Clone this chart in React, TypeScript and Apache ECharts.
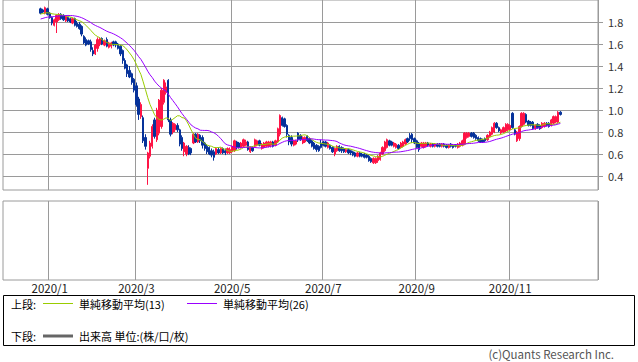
import React, { useEffect, useRef } from "react";
import * as echarts from "echarts";

// ---- calendar (trading days per month) ----
const months = ["2019/12", "2020/1", "2020/2", "2020/3", "2020/4", "2020/5", "2020/6", "2020/7", "2020/8", "2020/9", "2020/10", "2020/11", "2020/12"];
const tradingDays = [4, 19, 19, 21, 21, 18, 22, 21, 20, 20, 21, 19, 4];
const labeledMonths = ["2020/1", "2020/3", "2020/5", "2020/7", "2020/9", "2020/11"];

// ---- candles: [open, close, low, high] ----
const dec2019 = [[1.92, 1.88, 1.87, 1.93], [1.91, 1.89, 1.88, 1.92], [1.88, 1.93, 1.87, 1.94], [1.92, 1.87, 1.86, 1.93]];
const jan2020 = [
  [1.88, 1.84, 1.83, 1.89], [1.84, 1.79, 1.77, 1.85], [1.77, 1.82, 1.76, 1.83], [1.80, 1.86, 1.70, 1.87], [1.82, 1.87, 1.81, 1.88],
  [1.87, 1.83, 1.82, 1.88], [1.86, 1.82, 1.81, 1.87], [1.81, 1.85, 1.80, 1.86], [1.84, 1.81, 1.80, 1.85], [1.83, 1.80, 1.79, 1.84],
  [1.79, 1.83, 1.78, 1.84], [1.83, 1.77, 1.76, 1.84], [1.79, 1.76, 1.75, 1.81], [1.78, 1.74, 1.73, 1.80], [1.76, 1.69, 1.67, 1.77],
  [1.67, 1.61, 1.60, 1.68], [1.64, 1.59, 1.58, 1.66], [1.63, 1.60, 1.59, 1.64], [1.62, 1.55, 1.53, 1.64],
];
const feb2020 = [
  [1.54, 1.51, 1.49, 1.57], [1.51, 1.59, 1.50, 1.60], [1.56, 1.64, 1.53, 1.66], [1.60, 1.65, 1.58, 1.66], [1.65, 1.60, 1.59, 1.66],
  [1.59, 1.63, 1.58, 1.64], [1.64, 1.58, 1.57, 1.66], [1.57, 1.61, 1.56, 1.62], [1.58, 1.61, 1.56, 1.62], [1.62, 1.59, 1.58, 1.63],
  [1.62, 1.59, 1.57, 1.63], [1.60, 1.56, 1.55, 1.61], [1.58, 1.51, 1.49, 1.59], [1.54, 1.45, 1.42, 1.55], [1.45, 1.38, 1.37, 1.47],
  [1.41, 1.33, 1.30, 1.42], [1.36, 1.30, 1.29, 1.40], [1.33, 1.25, 1.23, 1.34], [1.28, 1.18, 1.16, 1.29],
];
const mar2020 = [
  [1.22, 1.05, 1.03, 1.25], [1.10, 0.96, 0.91, 1.12], [0.94, 1.05, 0.92, 1.07], [0.93, 0.72, 0.70, 0.95],
  [0.75, 0.67, 0.64, 0.78], [0.47, 0.61, 0.32, 0.62], [0.58, 0.70, 0.56, 0.72], [0.67, 0.85, 0.65, 0.87], [0.91, 0.76, 0.74, 0.93],
  [0.73, 1.00, 0.71, 1.02], [0.79, 1.09, 0.77, 1.10], [0.85, 1.18, 0.83, 1.20], [1.07, 1.27, 1.05, 1.28], [1.16, 1.21, 1.14, 1.25],
  [1.27, 0.91, 0.89, 1.28], [0.91, 0.78, 0.76, 0.93], [0.80, 0.88, 0.78, 0.89], [0.82, 0.87, 0.80, 0.88], [0.86, 0.82, 0.80, 0.88],
  [0.82, 0.69, 0.67, 0.83], [0.75, 0.65, 0.63, 0.77],
];
const apr2020 = [
  [0.62, 0.70, 0.58, 0.71], [0.60, 0.67, 0.58, 0.68], [0.66, 0.60, 0.59, 0.68], [0.65, 0.61, 0.59, 0.66],
  [0.70, 0.78, 0.69, 0.79], [0.78, 0.71, 0.70, 0.79], [0.71, 0.78, 0.70, 0.79], [0.77, 0.72, 0.70, 0.78], [0.75, 0.68, 0.65, 0.77],
  [0.70, 0.65, 0.63, 0.71], [0.67, 0.62, 0.60, 0.69], [0.66, 0.60, 0.59, 0.67], [0.63, 0.59, 0.57, 0.65], [0.62, 0.57, 0.54, 0.64],
  [0.60, 0.65, 0.59, 0.66], [0.64, 0.61, 0.60, 0.66], [0.61, 0.65, 0.60, 0.66], [0.65, 0.61, 0.60, 0.66], [0.63, 0.61, 0.59, 0.65],
  [0.61, 0.65, 0.60, 0.66], [0.61, 0.64, 0.60, 0.66],
];
const may2020 = [
  [0.62, 0.67, 0.61, 0.68], [0.63, 0.72, 0.62, 0.73], [0.71, 0.66, 0.64, 0.72], [0.70, 0.66, 0.65, 0.71],
  [0.66, 0.70, 0.65, 0.71], [0.67, 0.73, 0.66, 0.74], [0.68, 0.71, 0.67, 0.73], [0.71, 0.64, 0.63, 0.72], [0.62, 0.66, 0.61, 0.67],
  [0.66, 0.63, 0.62, 0.67], [0.67, 0.73, 0.66, 0.74], [0.68, 0.72, 0.67, 0.73], [0.72, 0.68, 0.67, 0.73], [0.65, 0.69, 0.64, 0.70],
  [0.66, 0.70, 0.65, 0.71], [0.67, 0.71, 0.66, 0.72], [0.67, 0.71, 0.66, 0.72], [0.68, 0.71, 0.66, 0.72],
];
const jun2020 = [
  [0.71, 0.67, 0.66, 0.72], [0.68, 0.72, 0.67, 0.73], [0.71, 0.83, 0.70, 0.84], [0.78, 0.95, 0.76, 0.96],
  [0.93, 0.86, 0.85, 0.94], [0.92, 0.85, 0.84, 0.93], [0.86, 0.78, 0.75, 0.87], [0.77, 0.71, 0.68, 0.78], [0.75, 0.69, 0.67, 0.77],
  [0.68, 0.72, 0.67, 0.73], [0.69, 0.72, 0.68, 0.73], [0.79, 0.73, 0.71, 0.80], [0.77, 0.73, 0.72, 0.78], [0.70, 0.75, 0.69, 0.76],
  [0.71, 0.75, 0.70, 0.76], [0.76, 0.72, 0.71, 0.77], [0.74, 0.70, 0.69, 0.75], [0.72, 0.67, 0.66, 0.73], [0.70, 0.65, 0.64, 0.71],
  [0.68, 0.64, 0.62, 0.69], [0.67, 0.63, 0.62, 0.68], [0.70, 0.66, 0.65, 0.73],
];
const jul2020 = [
  [0.71, 0.68, 0.67, 0.72], [0.71, 0.67, 0.66, 0.72], [0.66, 0.70, 0.65, 0.71], [0.68, 0.65, 0.64, 0.69],
  [0.66, 0.62, 0.61, 0.67], [0.60, 0.65, 0.58, 0.66], [0.63, 0.67, 0.62, 0.68], [0.67, 0.63, 0.62, 0.68], [0.66, 0.63, 0.61, 0.67],
  [0.65, 0.62, 0.61, 0.66], [0.62, 0.64, 0.61, 0.65], [0.64, 0.61, 0.60, 0.65], [0.63, 0.61, 0.59, 0.64], [0.62, 0.59, 0.58, 0.63],
  [0.61, 0.58, 0.57, 0.62], [0.58, 0.61, 0.57, 0.62], [0.61, 0.58, 0.57, 0.62], [0.60, 0.58, 0.57, 0.61], [0.60, 0.57, 0.56, 0.61],
  [0.59, 0.57, 0.56, 0.60], [0.58, 0.54, 0.53, 0.59],
];
const aug2020 = [
  [0.56, 0.53, 0.52, 0.57], [0.52, 0.56, 0.51, 0.57], [0.52, 0.56, 0.51, 0.57], [0.54, 0.58, 0.52, 0.59],
  [0.55, 0.61, 0.54, 0.62], [0.60, 0.66, 0.59, 0.67], [0.63, 0.71, 0.62, 0.72], [0.66, 0.73, 0.65, 0.74], [0.72, 0.68, 0.67, 0.73],
  [0.71, 0.68, 0.67, 0.72], [0.67, 0.70, 0.66, 0.71], [0.66, 0.69, 0.65, 0.70], [0.68, 0.65, 0.64, 0.69], [0.66, 0.70, 0.65, 0.71],
  [0.67, 0.71, 0.66, 0.72], [0.69, 0.73, 0.68, 0.74], [0.74, 0.71, 0.70, 0.75], [0.77, 0.74, 0.72, 0.79], [0.78, 0.73, 0.70, 0.79],
  [0.74, 0.70, 0.69, 0.75],
];
const sep2020 = [
  [0.72, 0.66, 0.65, 0.73], [0.70, 0.64, 0.62, 0.71], [0.67, 0.70, 0.66, 0.71], [0.66, 0.70, 0.65, 0.71],
  [0.67, 0.70, 0.66, 0.71], [0.70, 0.68, 0.67, 0.71], [0.67, 0.69, 0.66, 0.70], [0.69, 0.67, 0.66, 0.70], [0.67, 0.69, 0.66, 0.70],
  [0.69, 0.67, 0.66, 0.70], [0.69, 0.67, 0.66, 0.70], [0.67, 0.69, 0.66, 0.70], [0.69, 0.67, 0.66, 0.70], [0.68, 0.66, 0.65, 0.69],
  [0.66, 0.68, 0.65, 0.69], [0.69, 0.67, 0.66, 0.70], [0.68, 0.66, 0.65, 0.69], [0.68, 0.67, 0.66, 0.69], [0.66, 0.69, 0.65, 0.70],
  [0.67, 0.70, 0.66, 0.71],
];
const oct2020 = [
  [0.68, 0.72, 0.67, 0.73], [0.69, 0.79, 0.68, 0.80], [0.75, 0.79, 0.74, 0.80], [0.76, 0.79, 0.75, 0.80],
  [0.79, 0.76, 0.75, 0.80], [0.79, 0.75, 0.74, 0.80], [0.77, 0.74, 0.73, 0.78], [0.75, 0.72, 0.71, 0.76], [0.74, 0.71, 0.70, 0.75],
  [0.73, 0.71, 0.70, 0.74], [0.74, 0.72, 0.71, 0.75], [0.73, 0.77, 0.72, 0.78], [0.76, 0.80, 0.75, 0.81], [0.78, 0.84, 0.77, 0.85],
  [0.80, 0.88, 0.79, 0.89], [0.88, 0.84, 0.83, 0.89], [0.84, 0.81, 0.80, 0.85], [0.79, 0.82, 0.78, 0.83], [0.80, 0.84, 0.79, 0.85],
  [0.81, 0.87, 0.80, 0.88], [0.82, 0.87, 0.81, 0.88],
];
const nov2020 = [
  [0.82, 0.86, 0.81, 0.87], [0.97, 0.84, 0.83, 0.98], [0.82, 0.78, 0.77, 0.83], [0.72, 0.80, 0.71, 0.81], [0.74, 0.85, 0.72, 0.86],
  [0.85, 0.97, 0.84, 0.98], [0.87, 0.97, 0.86, 0.98], [0.96, 0.89, 0.88, 0.97], [0.90, 0.86, 0.85, 0.91], [0.89, 0.86, 0.85, 0.90],
  [0.89, 0.83, 0.82, 0.90], [0.83, 0.86, 0.82, 0.87], [0.87, 0.84, 0.83, 0.88], [0.86, 0.83, 0.82, 0.87], [0.84, 0.88, 0.83, 0.89],
  [0.85, 0.88, 0.84, 0.89], [0.88, 0.86, 0.85, 0.89], [0.88, 0.85, 0.84, 0.89], [0.86, 0.91, 0.85, 0.92],
];
const dec2020 = [[0.88, 0.94, 0.87, 0.95], [0.89, 0.94, 0.88, 0.95], [0.89, 0.98, 0.88, 0.99], [0.98, 0.96, 0.95, 0.99]];

// closes before the first visible session (for the moving averages)
const preCloses = [1.74, 1.76, 1.75, 1.77, 1.78, 1.76, 1.79, 1.80, 1.79, 1.81, 1.80, 1.79, 1.82, 1.84, 1.86, 1.85, 1.88, 1.87, 1.86, 1.89, 1.88, 1.87, 1.89, 1.88, 1.90];

const yTicks = [0.4, 0.6, 0.8, 1.0, 1.2, 1.4, 1.6, 1.8];
const Y_MIN = 0.273;
const Y_MAX = 2.0;
const MA_SHORT = 13;
const MA_LONG = 26;

// layout constants (empty slots on both sides of the time axis)
const PAD_LEFT = 16;
const PAD_RIGHT = 16;

const UP = "#ff1446";
const DOWN = "#06329a";
const GRID = "#9a9a9a";
const FONT = "'Noto Sans CJK JP', 'Noto Sans', sans-serif";

export default function App() {
  const ref = useRef<HTMLDivElement>(null);
  useEffect(() => {
    if (!ref.current) return;
    const chart = echarts.init(ref.current, undefined, { renderer: "svg" });

    const candles = [dec2019, jan2020, feb2020, mar2020, apr2020, may2020, jun2020, jul2020, aug2020, sep2020, oct2020, nov2020, dec2020].flat();

    // categories
    const cats: string[] = [];
    const labelIdx = new Map<number, string>();
    for (let i = 0; i < PAD_LEFT; i++) cats.push("_p" + i);
    months.forEach((m, mi) => {
      for (let d = 0; d < tradingDays[mi]; d++) {
        if (d === 0 && labeledMonths.includes(m)) labelIdx.set(cats.length, m);
        cats.push(m + "#" + (d + 1));
      }
    });
    for (let i = 0; i < PAD_RIGHT; i++) cats.push("_q" + i);

    const candleData = candles.map((c, i) => [PAD_LEFT + i, c[0], c[1], c[2], c[3]]);
    const closes = preCloses.concat(candles.map((c) => c[1]));
    const ma = (n: number) =>
      candles.map((_, i) => {
        const end = preCloses.length + i;
        let s = 0;
        for (let k = end - n + 1; k <= end; k++) s += closes[k];
        return [PAD_LEFT + i, +(s / n).toFixed(4)];
      });

    const isMonth = (idx: number) => labelIdx.has(idx);

    const xBase = {
      type: "category",
      data: cats,
      boundaryGap: true,
      axisLine: { show: false },
      axisTick: { show: false },
      splitLine: { show: true, interval: (idx: number) => isMonth(idx), lineStyle: { color: GRID, width: 1 } },
    };

    chart.setOption({
      animation: false,
      backgroundColor: "#fff",
      grid: [
        { left: 3, top: 0, width: 595, height: 190, show: true, borderColor: GRID, borderWidth: 1, backgroundColor: "transparent" },
        { left: 3, top: 201, width: 595, height: 79, show: true, borderColor: GRID, borderWidth: 1, backgroundColor: "transparent" },
      ],
      xAxis: [
        { ...xBase, gridIndex: 0, axisLabel: { show: false } },
        {
          ...xBase,
          gridIndex: 1,
          axisLabel: {
            show: true,
            interval: (idx: number) => isMonth(idx),
            formatter: (_v: string, idx: number) => labelIdx.get(idx) || "",
            margin: 2,
            color: "#222",
            fontSize: 11.5,
            lineHeight: 11,
            fontFamily: FONT,
          },
        },
      ],
      yAxis: [
        {
          type: "value",
          gridIndex: 0,
          position: "right",
          min: Y_MIN,
          max: Y_MAX,
          axisLine: { show: false },
          axisTick: { show: true, length: 5, customValues: yTicks, lineStyle: { color: GRID } },
          axisLabel: {
            show: true,
            customValues: yTicks,
            margin: 10,
            color: "#333",
            fontSize: 11,
            fontFamily: FONT,
            formatter: (v: number) => v.toFixed(1),
          },
          splitLine: { show: true, lineStyle: { color: GRID, width: 1 } },
        },
        {
          type: "value",
          gridIndex: 1,
          min: 0,
          max: 1,
          axisLine: { show: false },
          axisTick: { show: false },
          axisLabel: { show: false },
          splitLine: { show: false },
        },
      ],
      series: [
        {
          type: "candlestick",
          xAxisIndex: 0,
          yAxisIndex: 0,
          data: candleData,
          encode: { x: 0, y: [1, 2, 3, 4] },
          barWidth: 1.8,
          itemStyle: { color: UP, color0: DOWN, borderColor: UP, borderColor0: DOWN, borderWidth: 1 },
          z: 2,
        },
        {
          type: "line",
          xAxisIndex: 0,
          yAxisIndex: 0,
          data: ma(MA_SHORT),
          showSymbol: false,
          lineStyle: { color: "#99cc00", width: 1 },
          z: 3,
        },
        {
          type: "line",
          xAxisIndex: 0,
          yAxisIndex: 0,
          data: ma(MA_LONG),
          showSymbol: false,
          lineStyle: { color: "#9900ff", width: 1 },
          z: 3,
        },
      ],
      graphic: [
        { type: "rect", shape: { x: 3.5, y: 295.5, width: 631, height: 50 }, style: { fill: "none", stroke: "#000", lineWidth: 1 } },
        { type: "text", x: 11, y: 304, style: { text: "上段:", fontSize: 11, lineHeight: 11, fontFamily: FONT, fill: "#000", verticalAlign: "middle" } },
        { type: "line", shape: { x1: 43, y1: 303.5, x2: 73, y2: 303.5 }, style: { stroke: "#99cc00", lineWidth: 1 } },
        { type: "text", x: 79, y: 304, style: { text: "単純移動平均(13)", fontSize: 11, lineHeight: 11, fontFamily: FONT, fill: "#000", verticalAlign: "middle" } },
        { type: "line", shape: { x1: 187, y1: 303.5, x2: 217, y2: 303.5 }, style: { stroke: "#9900ff", lineWidth: 1 } },
        { type: "text", x: 223, y: 304, style: { text: "単純移動平均(26)", fontSize: 11, lineHeight: 11, fontFamily: FONT, fill: "#000", verticalAlign: "middle" } },
        { type: "text", x: 11, y: 336, style: { text: "下段:", fontSize: 11, lineHeight: 11, fontFamily: FONT, fill: "#000", verticalAlign: "middle" } },
        { type: "line", shape: { x1: 43, y1: 336, x2: 73, y2: 336 }, style: { stroke: "#666", lineWidth: 3 } },
        { type: "text", x: 79, y: 336, style: { text: "出来高 単位:(株/口/枚)", fontSize: 11, lineHeight: 11, fontFamily: FONT, fill: "#000", verticalAlign: "middle" } },
        { type: "text", x: 614, y: 354, style: { text: "(c)Quants Research Inc.", fontSize: 11.5, lineHeight: 11, fontFamily: FONT, fill: "#555", align: "right", verticalAlign: "middle" } },
      ],
    });
    return () => chart.dispose();
  }, []);

  return (
    <div
      ref={ref}
      style={{ position: "fixed", left: 0, top: 0, width: 638, height: 362, background: "#fff" }}
    />
  );
}
